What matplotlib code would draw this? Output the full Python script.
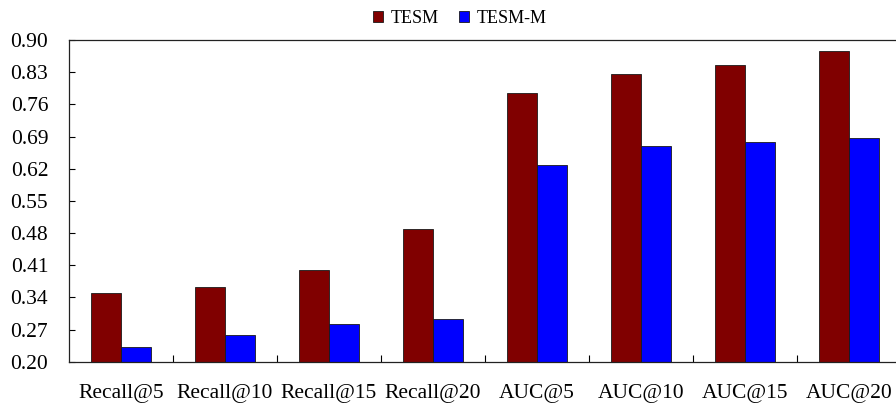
import matplotlib

matplotlib.use("Agg")
import matplotlib.pyplot as plt
import numpy as np

categories = ["Recall@5", "Recall@10", "Recall@15", "Recall@20",
              "AUC@5", "AUC@10", "AUC@15", "AUC@20"]
tesm = [0.349, 0.363, 0.400, 0.489, 0.785, 0.826, 0.846, 0.875]
tesm_m = [0.233, 0.258, 0.281, 0.292, 0.629, 0.670, 0.678, 0.687]
yticks = [0.20, 0.27, 0.34, 0.41, 0.48, 0.55, 0.62, 0.69, 0.76, 0.83, 0.90]

plt.rcParams["font.family"] = ["Liberation Serif", "DejaVu Serif"]

fig = plt.figure(figsize=(8.96, 4.05), dpi=100)
# plot area runs slightly past the right edge of the canvas
ax = fig.add_axes([69 / 896, 1 - 361.7 / 405, 832 / 896, 321.7 / 405])

x = np.arange(len(categories))
w = 0.285
ax.bar(x - w / 2, tesm, w, color="#800000", edgecolor="#1a1a1a", linewidth=0.6,
       label="TESM")
ax.bar(x + w / 2, tesm_m, w, color="#0000FF", edgecolor="#1a1a1a", linewidth=0.6,
       label="TESM-M")

ax.set_xlim(-0.5, len(categories) - 0.5)
ax.set_ylim(0.20, 0.90)
ax.set_yticks(yticks)
ax.set_yticklabels([f"{v:.2f}" for v in yticks])
ax.set_xticks(x)
ax.set_xticklabels(categories)
ax.set_xticks(np.arange(len(categories) - 1) + 0.5, minor=True)

ax.tick_params(axis="x", which="major", length=0, pad=16, labelsize=15.5)
ax.tick_params(axis="x", which="minor", direction="in", length=5, width=0.8)
ax.tick_params(axis="y", direction="in", length=4, width=0.8, pad=15, labelsize=15.5)

for side in ["left", "bottom", "top"]:
    ax.spines[side].set_linewidth(0.9)
    ax.spines[side].set_color("#222222")
ax.spines["right"].set_visible(False)

fig.legend(loc="upper center", bbox_to_anchor=(0.513, 1.016), ncol=2, frameon=False,
           fontsize=13, handlelength=0.6, handleheight=0.6, handletextpad=0.4,
           columnspacing=1.1)

fig.savefig("out.png", dpi=100)
